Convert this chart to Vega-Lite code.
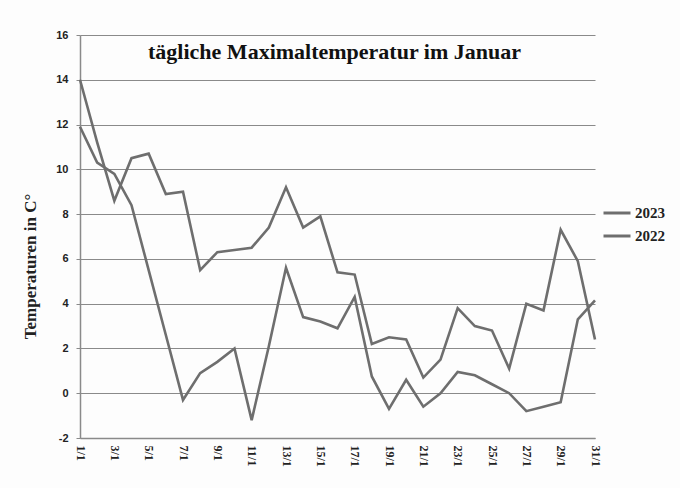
{
  "$schema": "https://vega.github.io/schema/vega-lite/v6.json",
  "autosize": "none",
  "width": 515,
  "height": 403,
  "padding": {"left": 80, "top": 35, "right": 85, "bottom": 50},
  "background": "#fdfdfd",
  "title": {
    "text": "tägliche Maximaltemperatur im Januar",
    "font": "Liberation Serif",
    "fontSize": 22,
    "fontWeight": "bold",
    "color": "#111111",
    "anchor": "middle",
    "offset": 0,
    "dx": -3,
    "dy": 35
  },
  "data": {
    "values": [
      {"day": 1, "year": "2023", "temp": 14.0},
      {"day": 2, "year": "2023", "temp": 11.2},
      {"day": 3, "year": "2023", "temp": 8.6},
      {"day": 4, "year": "2023", "temp": 10.5},
      {"day": 5, "year": "2023", "temp": 10.7},
      {"day": 6, "year": "2023", "temp": 8.9},
      {"day": 7, "year": "2023", "temp": 9.0},
      {"day": 8, "year": "2023", "temp": 5.5},
      {"day": 9, "year": "2023", "temp": 6.3},
      {"day": 10, "year": "2023", "temp": 6.4},
      {"day": 11, "year": "2023", "temp": 6.5},
      {"day": 12, "year": "2023", "temp": 7.4},
      {"day": 13, "year": "2023", "temp": 9.2},
      {"day": 14, "year": "2023", "temp": 7.4},
      {"day": 15, "year": "2023", "temp": 7.9},
      {"day": 16, "year": "2023", "temp": 5.4},
      {"day": 17, "year": "2023", "temp": 5.3},
      {"day": 18, "year": "2023", "temp": 2.2},
      {"day": 19, "year": "2023", "temp": 2.5},
      {"day": 20, "year": "2023", "temp": 2.4},
      {"day": 21, "year": "2023", "temp": 0.7},
      {"day": 22, "year": "2023", "temp": 1.5},
      {"day": 23, "year": "2023", "temp": 3.8},
      {"day": 24, "year": "2023", "temp": 3.0},
      {"day": 25, "year": "2023", "temp": 2.8},
      {"day": 26, "year": "2023", "temp": 1.1},
      {"day": 27, "year": "2023", "temp": 4.0},
      {"day": 28, "year": "2023", "temp": 3.7},
      {"day": 29, "year": "2023", "temp": 7.3},
      {"day": 30, "year": "2023", "temp": 5.9},
      {"day": 31, "year": "2023", "temp": 2.4},
      {"day": 1, "year": "2022", "temp": 11.9},
      {"day": 2, "year": "2022", "temp": 10.3},
      {"day": 3, "year": "2022", "temp": 9.8},
      {"day": 4, "year": "2022", "temp": 8.4},
      {"day": 5, "year": "2022", "temp": 5.5},
      {"day": 6, "year": "2022", "temp": 2.6},
      {"day": 7, "year": "2022", "temp": -0.3},
      {"day": 8, "year": "2022", "temp": 0.9},
      {"day": 9, "year": "2022", "temp": 1.4},
      {"day": 10, "year": "2022", "temp": 2.0},
      {"day": 11, "year": "2022", "temp": -1.2},
      {"day": 12, "year": "2022", "temp": 2.1},
      {"day": 13, "year": "2022", "temp": 5.6},
      {"day": 14, "year": "2022", "temp": 3.4},
      {"day": 15, "year": "2022", "temp": 3.2},
      {"day": 16, "year": "2022", "temp": 2.9},
      {"day": 17, "year": "2022", "temp": 4.3},
      {"day": 18, "year": "2022", "temp": 0.75},
      {"day": 19, "year": "2022", "temp": -0.7},
      {"day": 20, "year": "2022", "temp": 0.6},
      {"day": 21, "year": "2022", "temp": -0.6},
      {"day": 22, "year": "2022", "temp": 0.0},
      {"day": 23, "year": "2022", "temp": 0.95},
      {"day": 24, "year": "2022", "temp": 0.8},
      {"day": 25, "year": "2022", "temp": 0.4},
      {"day": 26, "year": "2022", "temp": 0.0},
      {"day": 27, "year": "2022", "temp": -0.8},
      {"day": 28, "year": "2022", "temp": -0.6},
      {"day": 29, "year": "2022", "temp": -0.4},
      {"day": 30, "year": "2022", "temp": 3.3},
      {"day": 31, "year": "2022", "temp": 4.15}
    ]
  },
  "mark": {"type": "line", "strokeWidth": 2.6, "strokeJoin": "miter"},
  "encoding": {
    "x": {
      "field": "day",
      "type": "quantitative",
      "scale": {"domain": [1, 31], "nice": false, "zero": false},
      "axis": {
        "title": null,
        "values": [1, 3, 5, 7, 9, 11, 13, 15, 17, 19, 21, 23, 25, 27, 29, 31],
        "labelExpr": "datum.value + '/1'",
        "labelAngle": 90,
        "labelFont": "Liberation Serif",
        "labelFontWeight": "bold",
        "labelFontSize": 12,
        "labelColor": "#222222",
        "labelPadding": 7,
        "ticks": false,
        "grid": false,
        "domainColor": "#8a8a8a",
        "domainWidth": 1.5,
        "labelOverlap": false
      }
    },
    "y": {
      "field": "temp",
      "type": "quantitative",
      "scale": {"domain": [-2, 16], "nice": false},
      "axis": {
        "title": "Temperaturen in C°",
        "titleFont": "Liberation Serif",
        "titleFontWeight": "bold",
        "titleFontSize": 17,
        "titleColor": "#222222",
        "titleX": -41,
        "titleY": 231,
        "values": [-2, 0, 2, 4, 6, 8, 10, 12, 14, 16],
        "labelExpr": "'' + datum.value",
        "labelFont": "Liberation Sans",
        "labelFontWeight": "bold",
        "labelFontSize": 11,
        "labelColor": "#222222",
        "labelPadding": 8,
        "tickSize": 4,
        "tickColor": "#8a8a8a",
        "grid": true,
        "gridColor": "#8a8a8a",
        "gridWidth": 1.2,
        "domainColor": "#8a8a8a",
        "domainWidth": 1.5
      }
    },
    "color": {
      "field": "year",
      "type": "nominal",
      "scale": {"domain": ["2023", "2022"], "range": ["#6e6e6e", "#6e6e6e"]},
      "legend": {
        "title": null,
        "orient": "none",
        "legendX": 522,
        "legendY": 163,
        "symbolType": "stroke",
        "symbolSize": 729,
        "symbolStrokeWidth": 3,
        "rowPadding": 0,
        "labelFont": "Liberation Serif",
        "labelFontWeight": "bold",
        "labelFontSize": 15,
        "labelColor": "#222222",
        "labelOffset": 3
      }
    }
  },
  "config": {"view": {"stroke": null}}
}
